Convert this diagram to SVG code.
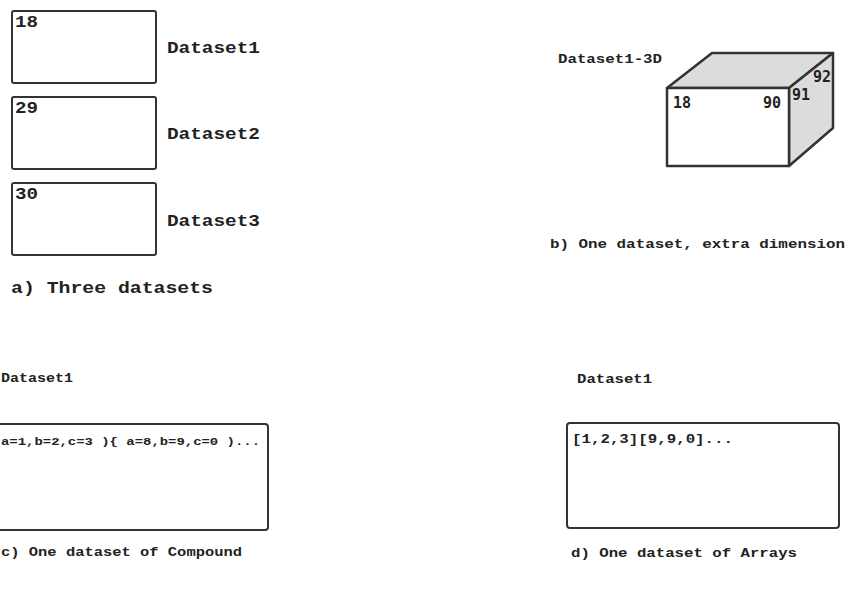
<svg xmlns="http://www.w3.org/2000/svg" width="849" height="593" viewBox="0 0 849 593">
<style>
.box{fill:#fff;stroke:#333;stroke-width:2}
.t{font-family:"Liberation Mono","Courier New",monospace;font-weight:bold;fill:#222}
.s{font-family:"DejaVu Sans Mono",monospace;font-weight:bold;fill:#222;font-size:15px}
.cube{stroke:#333;stroke-width:2.5;stroke-linejoin:round}
</style>
<rect width="849" height="593" fill="#fff"/>
<g id="panel-a">
<g id="ds1"><rect class="box" x="12" y="11" width="144" height="72" rx="2"/><text class="t" x="15" y="27" font-size="17" textLength="23" lengthAdjust="spacingAndGlyphs">18</text><text class="t" x="167" y="53" font-size="17" textLength="93" lengthAdjust="spacingAndGlyphs">Dataset1</text></g>
<g id="ds2"><rect class="box" x="12" y="97" width="144" height="72" rx="2"/><text class="t" x="15" y="113" font-size="17" textLength="23" lengthAdjust="spacingAndGlyphs">29</text><text class="t" x="167" y="139" font-size="17" textLength="93" lengthAdjust="spacingAndGlyphs">Dataset2</text></g>
<g id="ds3"><rect class="box" x="12" y="183" width="144" height="72" rx="2"/><text class="t" x="15" y="199" font-size="17" textLength="23" lengthAdjust="spacingAndGlyphs">30</text><text class="t" x="167" y="226" font-size="17" textLength="93" lengthAdjust="spacingAndGlyphs">Dataset3</text></g>
<text class="t" x="11" y="293" font-size="17" textLength="202" lengthAdjust="spacingAndGlyphs">a) Three datasets</text>
</g>
<g id="panel-b">
<text class="t" x="558" y="63" font-size="12" textLength="104" lengthAdjust="spacingAndGlyphs">Dataset1-3D</text>
<g id="cube">
<polygon class="cube" points="667,88 712,53 833,53 789,88" fill="#dcdcdc"/>
<polygon class="cube" points="789,88 833,53 833,128 789,166" fill="#dcdcdc"/>
<rect class="cube" x="667" y="88" width="122" height="78" fill="#fff"/>
<text class="s" x="673" y="108">18</text>
<text class="s" x="763" y="108">90</text>
<text class="s" x="792" y="100">91</text>
<text class="s" x="813" y="82">92</text>
</g>
<text class="t" x="550" y="248" font-size="12" textLength="295" lengthAdjust="spacingAndGlyphs">b) One dataset, extra dimension</text>
</g>
<g id="panel-c">
<text class="t" x="1" y="382" font-size="12" textLength="72" lengthAdjust="spacingAndGlyphs">Dataset1</text>
<g id="compound"><rect class="box" x="-10" y="424" width="278" height="106" rx="3"/><text class="t" x="1" y="445" font-size="11" textLength="259" lengthAdjust="spacingAndGlyphs">a=1,b=2,c=3 ){ a=8,b=9,c=0 )...</text></g>
<text class="t" x="1" y="556" font-size="12" textLength="241" lengthAdjust="spacingAndGlyphs">c) One dataset of Compound</text>
</g>
<g id="panel-d">
<text class="t" x="577" y="383" font-size="12" textLength="75" lengthAdjust="spacingAndGlyphs">Dataset1</text>
<g id="arrays"><rect class="box" x="567" y="423" width="272" height="105" rx="3"/><text class="t" x="572" y="443" font-size="12" textLength="161" lengthAdjust="spacingAndGlyphs">[1,2,3][9,9,0]...</text></g>
<text class="t" x="571" y="557" font-size="12" textLength="226" lengthAdjust="spacingAndGlyphs">d) One dataset of Arrays</text>
</g>
<g id="connectors"/>
</svg>
